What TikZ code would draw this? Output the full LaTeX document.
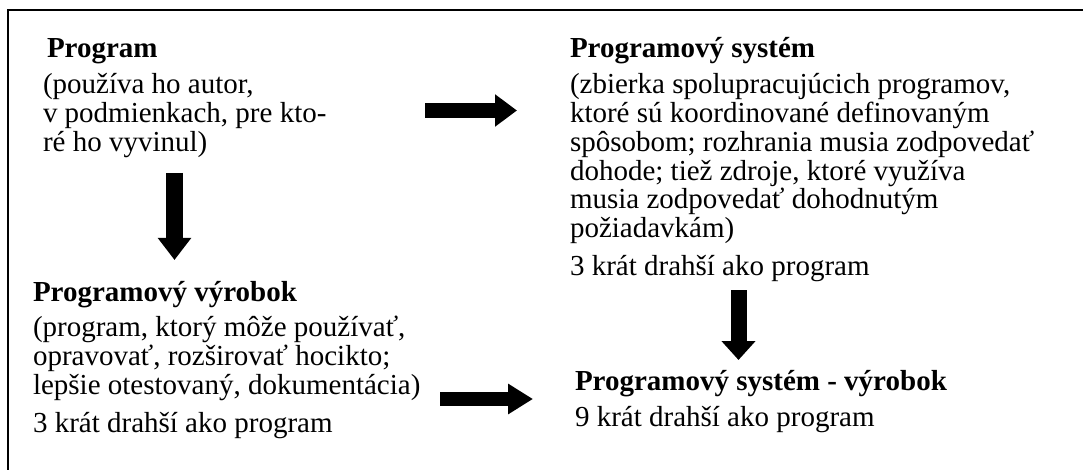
\documentclass[tikz,border=0pt]{standalone}
\usepackage{fontspec}
\setmainfont{Liberation Serif}
\usetikzlibrary{arrows.meta}
% one block of text: bold heading, then the description lines
\newcommand\blocktext[1]{\parbox[t]{500pt}{\raggedright #1}}
\begin{document}
\begin{tikzpicture}[x=1pt,y=-1pt,
  block/.style={anchor=base west, inner sep=0pt, outer sep=0pt,
    font=\fontsize{29}{28.8}\selectfont},
  % thick block arrow: shaft width, head length, head width
  bigarrow/.style n args={3}{line width=#1, -{Triangle[length=#2,width=#3]}}]
\useasboundingbox (0,0) rectangle (1083,470);
% frame (top and left edges)
\draw[line width=2pt] (8,470) -- (8,10) -- (1083,10);

\node[block] (prog) at (43,58) {\blocktext{\hspace*{4pt}\textbf{Program}\\[7pt]
  (používa ho autor,\\
  v podmienkach, pre kto-\\
  ré ho vyvinul)}};

\node[block] (sys) at (570,58) {\blocktext{\textbf{Programový systém}\\[7pt]
  (zbierka spolupracujúcich programov,\\
  ktoré sú koordinované definovaným\\
  spôsobom; rozhrania musia zodpovedať\\
  dohode; tiež zdroje, ktoré využíva\\
  musia zodpovedať dohodnutým\\
  požiadavkám)\\[9pt]
  3 krát drahší ako program}};

\node[block] (vyr) at (33,301) {\blocktext{\textbf{Programový výrobok}\\[7pt]
  (program, ktorý môže používať,\\
  opravovať, rozširovať hocikto;\\
  lepšie otestovaný, dokumentácia)\\[9pt]
  3 krát drahší ako program}};

\node[block] (sysvyr) at (575,390) {\blocktext{\textbf{Programový systém - výrobok}\\[8pt]
  9 krát drahší ako program}};

% arrow ends
\coordinate (progOut) at (425,110.5);
\coordinate (sysIn) at (517,110.5);
\coordinate (progDown) at (174.5,173);
\coordinate (vyrIn) at (174.5,260);
\coordinate (sysDown) at (738.5,290);
\coordinate (sysvyrTop) at (738.5,360);
\coordinate (vyrOut) at (440,399);
\coordinate (sysvyrIn) at (533,399);

\draw[bigarrow={15pt}{22pt}{31pt}] (progOut) -- (sysIn);
\draw[bigarrow={17pt}{22pt}{32pt}] (progDown) -- (vyrIn);
\draw[bigarrow={16pt}{19pt}{33pt}] (sysDown) -- (sysvyrTop);
\draw[bigarrow={14pt}{25pt}{29pt}] (vyrOut) -- (sysvyrIn);
\end{tikzpicture}
\end{document}
